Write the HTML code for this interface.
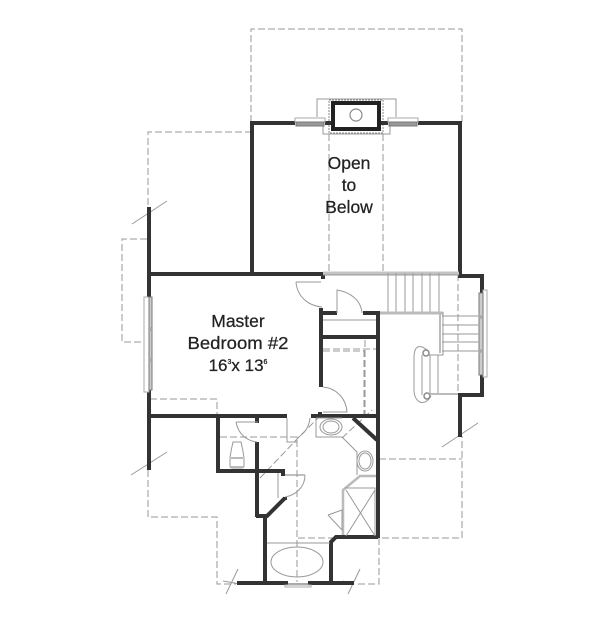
<!DOCTYPE html>
<html>
<head>
<meta charset="utf-8">
<style>
html,body{margin:0;padding:0;background:#fff}
svg{display:block}
text{font-family:"Liberation Sans",sans-serif;fill:#222;stroke:#222;stroke-width:.25;text-anchor:middle;font-size:17.5px}
.w{fill:none;stroke:#333;stroke-width:4;stroke-linejoin:miter}
.d{fill:none;stroke:#999;stroke-width:1;stroke-dasharray:7 3}
.t{fill:none;stroke:#999;stroke-width:1}
.g{fill:none;stroke:#bbb;stroke-width:2}
</style>
</head>
<body>
<svg width="600" height="638" viewBox="0 0 600 638" xmlns="http://www.w3.org/2000/svg">
<rect width="600" height="638" fill="#fff"/>

<!-- dashed roof outlines -->
<path class="d" d="M251 122V29H462V124"/>
<path class="d" d="M329 134V272M383 134V272"/>
<path class="d" d="M148 205V132H251"/>
<path class="d" d="M147 239H122V342H146"/>
<path class="d" d="M150 399H217V416"/>
<path class="d" d="M148 470V517H217V584H236"/>
<path class="d" d="M220 437H297V582"/>
<path class="d" d="M298 538H335"/>
<path class="d" d="M358 584H379V538H462V436"/>
<path class="d" d="M379 459H462"/>
<path class="d" d="M458 274V395"/>
<path class="d" d="M323 349H376M365 340V415M364 350V415M323 351H365"/>
<path class="d" d="M260 478L298 438L318 418M342 438L372 410"/>

<!-- break lines -->
<path class="t" d="M132 224L167 201M131 475L167 452M238 569L226 594M223 581L240 584M360 569L348 594M343 581L352 584M442 447L478 423"/>

<!-- main walls -->
<path class="w" d="M252 272V123H295M418 123H460V272"/>
<path class="w" d="M149 207V297M149 390V470"/>
<path class="w" d="M147 274H323V279"/>
<path class="w" d="M147 416H287"/>
<path class="w" d="M460 272V276H482V293M482 375V395H460V437"/>
<path class="w" d="M321 308V387"/>
<path class="w" d="M319 313H337M363 313H380"/>
<path class="w" d="M321 337H378"/>
<path class="w" d="M378 311V538"/>
<path class="w" d="M311 416H378M320 412V416"/>
<path class="w" d="M218 416V471H285"/>
<path class="w" d="M257 416V423M257 442V517"/>
<path class="w" d="M285 498L267 516H256M265 516V583"/>
<path class="w" d="M285 497V500M283 472V476"/>
<path class="w" d="M237 583H288M308 583H354"/>
<path class="w" d="M331 583V542L336 537H378"/>
<path class="w" d="M353 418L377 440"/>

<!-- chimney -->
<path class="t" d="M317 117V99H396V117M323 118V134H390V118"/>
<rect x="329" y="100" width="54" height="33" fill="none" stroke="#888" stroke-width="1" stroke-dasharray="2 1"/>
<rect x="333" y="103" width="46" height="26" fill="#fff" stroke="#222" stroke-width="4"/>
<circle cx="356" cy="115" r="6" fill="#fff" stroke="#888" stroke-width="1.2"/>
<path d="M325 123H331M381 123H388" class="w"/>

<!-- windows -->
<rect x="295" y="118" width="30" height="4" fill="#fff" stroke="#aaa"/>
<rect x="296" y="122" width="28" height="4" fill="#999" stroke="#777"/>
<rect x="388" y="118" width="30" height="4" fill="#fff" stroke="#aaa"/>
<rect x="389" y="122" width="28" height="4" fill="#999" stroke="#777"/>
<rect x="144" y="297" width="5" height="95" fill="#fff" stroke="#aaa"/>
<rect x="149" y="297" width="3" height="93" fill="#ccc" stroke="#777"/>
<circle cx="150" cy="329" r="2" fill="#aaa"/><circle cx="150" cy="360" r="2" fill="#aaa"/>
<rect x="483" y="290" width="4" height="87" fill="#fff" stroke="#aaa"/>
<rect x="479" y="293" width="4" height="82" fill="#ccc" stroke="#777"/>
<circle cx="480" cy="317" r="2" fill="#aaa"/><circle cx="480" cy="351" r="2" fill="#aaa"/>
<rect x="288" y="583" width="20" height="3" fill="#aaa"/>
<rect x="285" y="585" width="26" height="2" fill="#fff" stroke="#aaa"/>

<!-- doors -->
<path class="t" d="M296 282H321M296 282C297 296 308 306 322 307"/>
<path class="t" d="M337 313V290C350 292 361 300 362 313"/>
<path class="t" d="M323 387C336 388 346 398 347 412H323"/>
<path class="t" d="M236 422H258M236 422C238 434 247 441 257 442"/>
<path class="t" d="M287 418V442H297M310 418C309 428 304 434 297 438"/>
<path class="g" d="M285 475H305" style="stroke-width:1.2;stroke:#999"/>
<path class="t" d="M305 475C305 487 296 495 285 497M278 473V498"/>

<!-- stairs -->
<path class="g" d="M323 273H459" style="stroke-width:3;stroke:#c4c4c4"/>
<path class="t" d="M323 275H459"/>
<path class="t" d="M388 273V313M396 273V313M405 273V313M413 273V313M422 273V313M430 273V313M439 273V313"/>
<path class="g" d="M380 313H443" style="stroke-width:3"/>
<path class="t" d="M443 312V355H425M442 316H478M442 325H478M442 334H478M442 342H478M442 351H478"/>
<path class="g" d="M440 313V353" style="stroke-width:2"/>
<path class="t" d="M422 355V395M430 355V393M438 355V393"/>
<path class="t" d="M427 350C420 344 414 345 414 358V390C414 402 424 408 431 396"/>
<circle cx="426" cy="353" r="3" fill="#fff" stroke="#888" stroke-width="1.5"/>
<circle cx="427" cy="396" r="3" fill="#fff" stroke="#888" stroke-width="1.5"/>
<path class="g" d="M430 394H458" style="stroke-width:2"/>

<!-- closet shelves -->
<path class="t" d="M323 320H376"/>

<!-- toilet room -->
<path class="t" d="M233 442H241Q243 450 244 458V466Q244 468 241 468H233Q230 468 230 466V458Q231 450 233 442Z"/>
<path class="g" d="M231 458H243M231 467H243"/>

<!-- bath fixtures -->
<path class="t" d="M316 418H342M316 418V437H342L357 452V475"/>
<ellipse class="t" cx="331" cy="427" rx="11" ry="8"/>
<ellipse class="t" cx="331" cy="427" rx="8" ry="6"/>
<ellipse class="t" cx="365" cy="461" rx="8" ry="10"/>
<ellipse class="t" cx="365" cy="461" rx="6" ry="8"/>
<path class="g" d="M376 476H360L343 490V535" style="stroke-width:2.5"/>
<path class="t" d="M345 488H375V536M346 536L375 490M346 490L375 536"/>
<path class="t" d="M328 515L342 510V530L328 515"/>
<path class="t" d="M267 543H330"/>
<ellipse class="t" cx="297" cy="562" rx="26" ry="15"/>

<!-- labels -->
<text x="349" y="169">Open</text>
<text x="349" y="191">to</text>
<text x="349" y="213">Below</text>
<text x="238" y="327">Master</text>
<text x="238" y="349" textLength="101" lengthAdjust="spacingAndGlyphs">Bedroom #2</text>
<text x="238" y="371" font-size="17" style="font-size:17px">16<tspan style="font-size:7px" dy="-7">3</tspan><tspan dy="7">x 13</tspan><tspan style="font-size:7px" dy="-7">6</tspan></text>
</svg>
</body>
</html>
